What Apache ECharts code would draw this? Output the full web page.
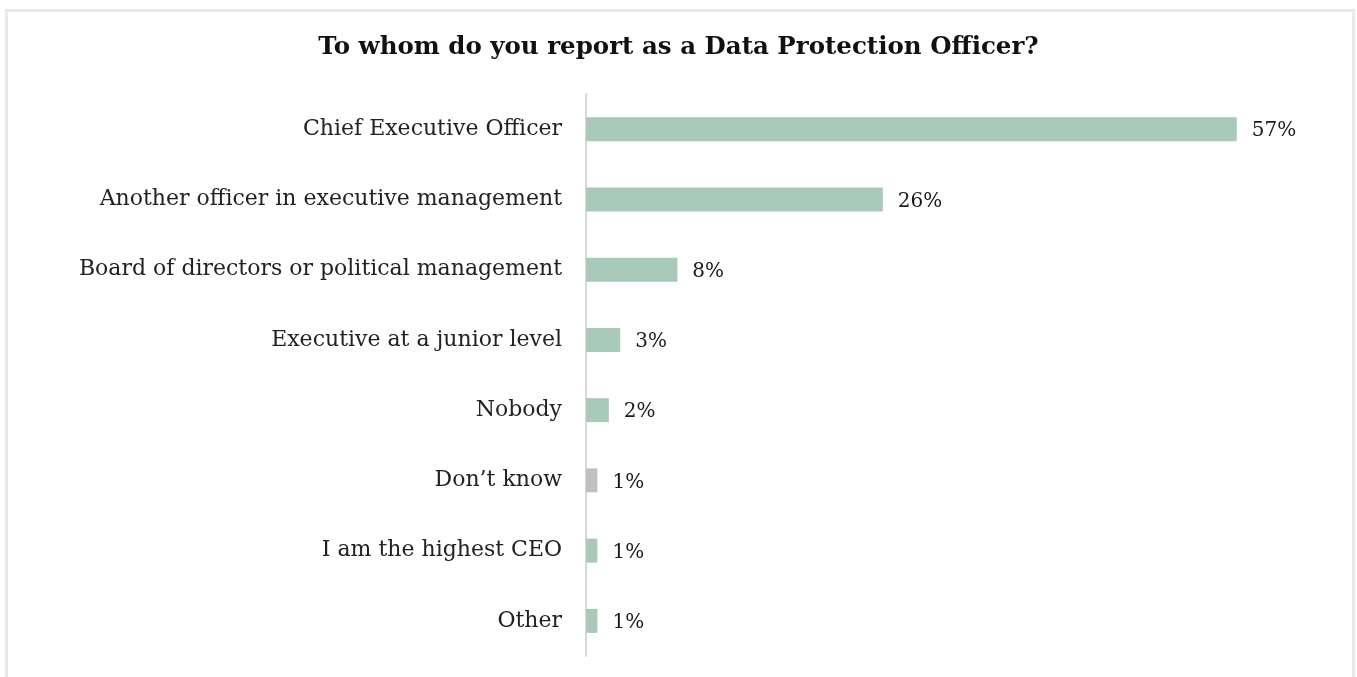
<!DOCTYPE html>
<html>
<head>
<meta charset="utf-8">
<script src="https://cdn.jsdelivr.net/npm/echarts@6/dist/echarts.min.js"></script>
<style>
html,body{margin:0;padding:0;background:#fff;}
#frame{position:absolute;left:5px;top:9px;width:1344px;height:700px;border:3px solid #e8e8e8;border-bottom:none;}
#chart{position:absolute;left:0;top:0;width:1357px;height:677px;}
</style>
</head>
<body>
<div id="frame"></div>
<div id="chart"></div>
<script>
const categories = [
  "Chief Executive Officer",
  "Another officer in executive management",
  "Board of directors or political management",
  "Executive at a junior level",
  "Nobody",
  "Don\u2019t know",
  "I am the highest CEO",
  "Other"
];
const values = [57, 26, 8, 3, 2, 1, 1, 1];
const barColors = ["#a9cab9","#a9cab9","#a9cab9","#a9cab9","#a9cab9","#c0c0c0","#a9cab9","#a9cab9"];
const titleText = "To whom do you report as a Data Protection Officer?";

const FONT = "DejaVu Serif";
const chart = echarts.init(document.getElementById('chart'), null, {renderer:'canvas'});
chart.setOption({
  backgroundColor: 'transparent',
  animation: false,
  title: {
    text: titleText,
    left: 'center',
    top: 30,
    textStyle: {fontFamily: FONT, fontWeight: 'bold', fontSize: 24.5, color: '#111'}
  },
  grid: {left: 586, top: 94, width: 685, height: 562},
  xAxis: {
    type: 'value', min: 0, max: 60, show: false
  },
  yAxis: {
    type: 'category',
    data: categories,
    inverse: true,
    axisLine: {show: true, lineStyle: {color: '#d9d9d9', width: 2}},
    axisTick: {show: false},
    axisLabel: {fontFamily: FONT, fontSize: 22, color: '#222', margin: 24}
  },
  series: [{
    type: 'bar',
    data: values.map((v, i) => ({value: v, itemStyle: {color: barColors[i]}})),
    barWidth: 24,
    label: {
      show: true, position: 'right', distance: 15, offset: [0, 2],
      formatter: p => p.value + '%',
      fontFamily: FONT, fontSize: 20, color: '#1a1a1a'
    }
  }]
});
</script>
</body>
</html>
